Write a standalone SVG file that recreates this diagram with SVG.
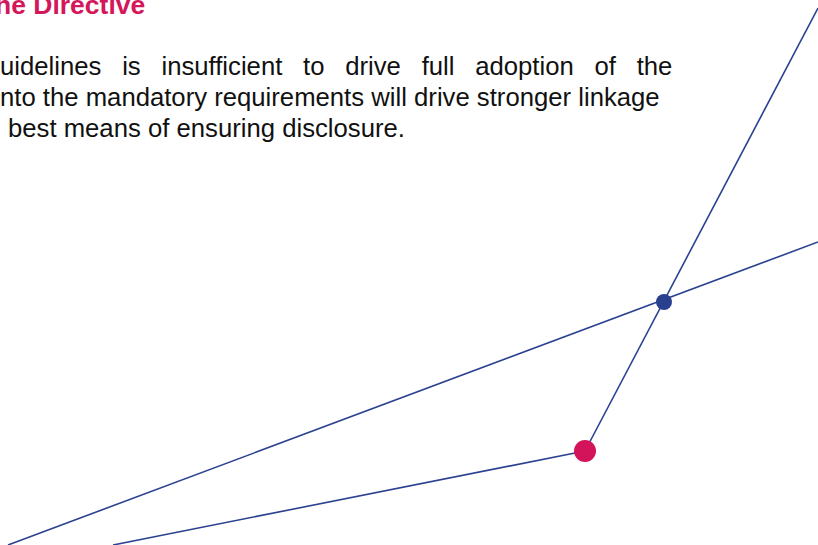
<svg xmlns="http://www.w3.org/2000/svg" width="818" height="545" viewBox="0 0 818 545">
<style>
.body{font-family:"Liberation Sans",Arial,sans-serif;font-size:25.7px;fill:#111111}
.title{font-family:"Liberation Sans",Arial,sans-serif;font-size:26.5px;font-weight:bold;fill:#D4175A}
.ln{stroke:#2A4290;stroke-width:1.6;fill:none}
</style>
<rect width="818" height="545" fill="#ffffff"/>
<g id="text">
<text class="title" x="-5" y="14">he Directive</text>
<text class="body" x="0" y="75" word-spacing="13.6">uidelines is insufficient to drive full adoption of the</text>
<text class="body" x="0" y="106">nto the mandatory requirements will drive stronger linkage</text>
<text class="body" x="8" y="137" font-size="26"> best means of ensuring disclosure.</text>
</g>
<g id="connectors">
<line class="ln" x1="8" y1="545" x2="818" y2="242"/>
<line class="ln" x1="818" y1="8" x2="585" y2="451"/>
<line class="ln" x1="585" y1="451" x2="113" y2="545"/>
</g>
<g id="node-blue"><circle cx="664" cy="302" r="8" fill="#28408E"/></g>
<g id="node-pink"><circle cx="585" cy="451" r="11" fill="#D4145A"/></g>
</svg>
